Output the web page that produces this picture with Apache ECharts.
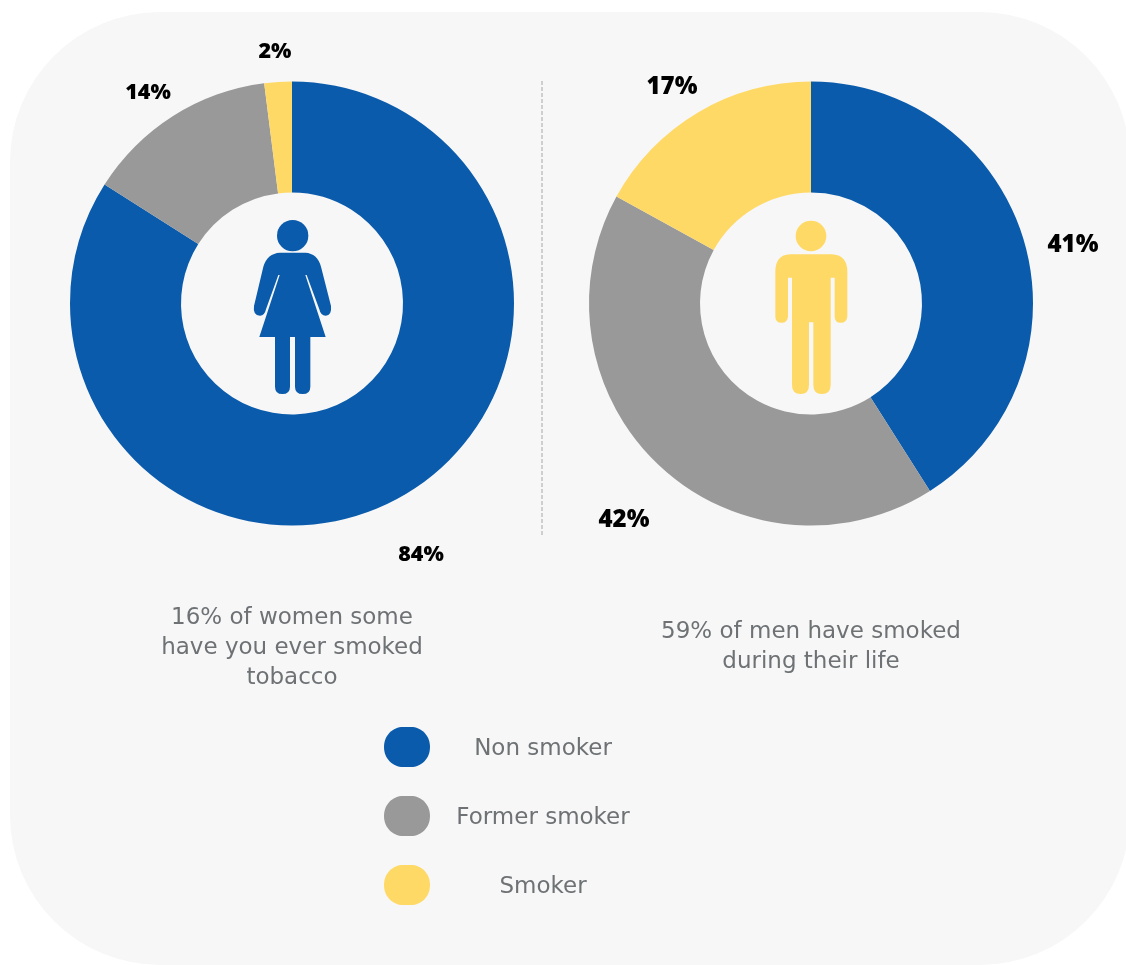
<!DOCTYPE html>
<html>
<head>
<meta charset="utf-8">
<style>html,body{margin:0;padding:0;background:#fff}#c{width:1126px;height:965px}</style>
<script src="https://cdn.jsdelivr.net/npm/echarts@6/dist/echarts.min.js"></script>
</head>
<body>
<div id="c"></div>
<script>
// Smoking status by sex
const categories = ['Non smoker', 'Former smoker', 'Smoker'];
const womenValues = [84, 14, 2];
const menValues = [41, 42, 17];
const womenCaption = '16% of women some\nhave you ever smoked\ntobacco';
const menCaption = '59% of men have smoked\nduring their life';

const BLUE = '#0a5bac', GREY = '#999999', YELLOW = '#ffd966';
const CAPTION = '#6e7275';
const PANEL = '#f7f7f7';
const TEXT_FONT = '"DejaVu Sans"';

// Label anchors for each ring, in slice order
const womenLabelAt = [[421, 555], [148, 93], [275, 52]];
const menLabelAt = [[1073, 245], [624, 520], [672, 87]];

const WOMAN = 'M188 158L150 158Q112 160 100 200L72 318Q68 346 90 347Q104 347 108 328L145 225L149 225L88 411L135 411L135 560Q135 582 157 582Q180 582 180 560L180 411L195 411L195 560Q195 582 218 582Q241 582 241 560L241 411L287 411L226 225L230 225L268 328Q272 347 287 347Q306 346 303 318L273 200Q262 160 226 158Z';
const MAN = 'M120 163L245 163Q292 165 292 215L292 350Q290 368 272 368Q254 368 254 350L254 233L242 233L242 555Q242 582 215 582Q190 582 190 555L190 367L177 367L177 555Q177 582 152 582Q126 582 126 555L126 233L114 233L114 350Q112 368 95 368Q76 368 76 350L76 215Q76 165 120 163Z';

function ring(values, cx, anchors, labelSize) {
  return {
    type: 'pie',
    center: [cx, 303.5],
    radius: [111, 222],
    startAngle: 90,
    silent: true,
    animation: false,
    data: categories.map((name, i) => ({ name, value: values[i] })),
    label: {
      show: true,
      formatter: '{c}%',
      overflow: 'none',
      fontFamily: '"Open Sans"',
      fontWeight: 800,
      fontSize: labelSize,
      color: '#000'
    },
    labelLine: { show: false },
    labelLayout: p => ({
      x: anchors[p.dataIndex][0],
      y: anchors[p.dataIndex][1],
      align: 'center',
      verticalAlign: 'middle'
    })
  };
}

// Pictogram in the hole of a ring, outlined on a 3x grid
function figure(x, y, path, head, color) {
  return {
    type: 'custom',
    coordinateSystem: 'none',
    silent: true,
    data: [0],
    z: 5,
    renderItem: () => ({
      type: 'group', x, y, scaleX: 1 / 3, scaleY: 1 / 3,
      children: [
        { type: 'circle', shape: { cx: head[0], cy: head[1], r: head[2] }, style: { fill: color } },
        { type: 'path', shape: { pathData: path }, style: { fill: color } }
      ]
    })
  };
}

function caption(text, x, y) {
  return {
    type: 'text', x, y,
    style: {
      text, fill: CAPTION, align: 'center', verticalAlign: 'top',
      font: '23px ' + TEXT_FONT, lineHeight: 30
    }
  };
}

const chart = echarts.init(document.getElementById('c'), null, { renderer: 'canvas' });
chart.setOption({
  animation: false,
  color: [BLUE, GREY, YELLOW],
  legend: {
    orient: 'vertical',
    left: 384,
    top: 727,
    padding: 0,
    itemWidth: 46,
    itemHeight: 40,
    itemGap: 29,
    selectedMode: false,
    data: categories,
    icon: 'path://M19 0H27C37 0 46 8 46 20C46 32 37 40 27 40H19C9 40 0 32 0 20C0 8 9 0 19 0Z',
    formatter: '{t|{name}}',
    textStyle: {
      rich: { t: { width: 216, align: 'center', padding: [4, 0, 0, 0], color: CAPTION, fontFamily: TEXT_FONT, fontSize: 23 } }
    }
  },
  series: [
    ring(womenValues, 292, womenLabelAt, 21.5),
    ring(menValues, 811, menLabelAt, 24),
    figure(230, 200, WOMAN, [188, 107, 47], BLUE),
    figure(750, 200, MAN, [183, 108, 46], YELLOW)
  ],
  graphic: [
    { type: 'rect', z: -10, shape: { x: 10, y: 12, width: 1120, height: 953, r: 150 }, style: { fill: PANEL } },
    { type: 'line', shape: { x1: 542, y1: 81, x2: 542, y2: 535 }, style: { stroke: '#a6a6a6', lineWidth: 1, lineDash: [4, 2] } },
    caption(womenCaption, 292, 603),
    caption(menCaption, 811, 617)
  ]
});
</script>
</body>
</html>
